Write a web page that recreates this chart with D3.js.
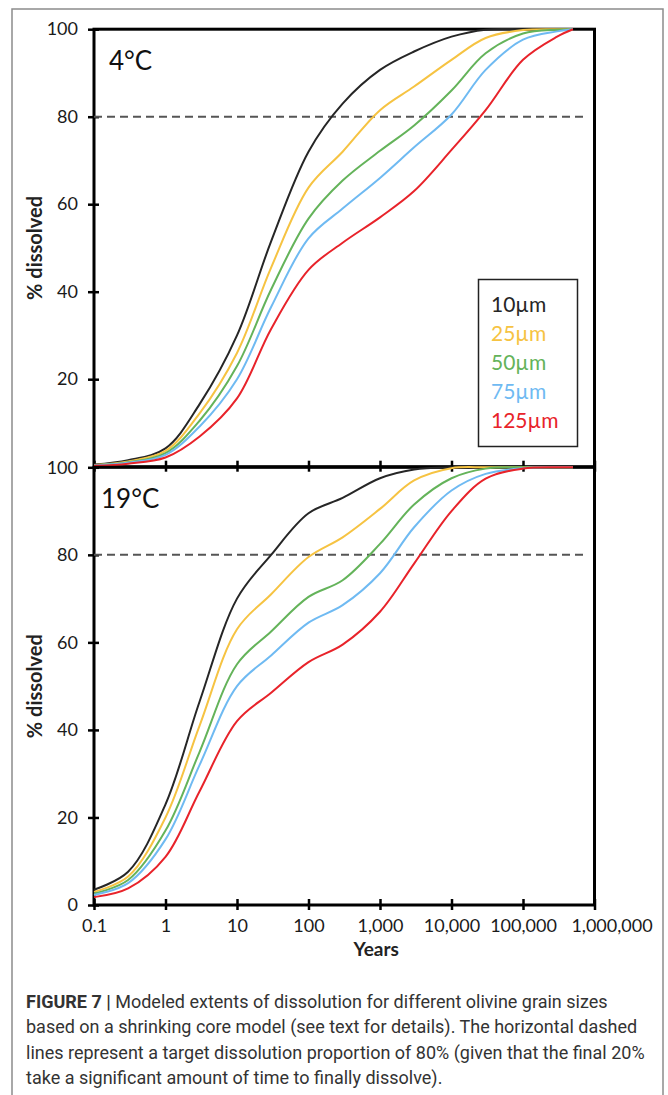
<!DOCTYPE html>
<html>
<head>
<meta charset="utf-8">
<script src="https://cdn.jsdelivr.net/npm/d3@7"></script>
<style>
body { margin: 0; background: #fff; }
</style>
</head>
<body>
<div id="fig"></div>
<script>
// data (x = years, y = % dissolved)
var years = [0.1, 0.3, 1, 3, 10, 30, 100, 300, 1000, 3000, 10000, 30000, 100000, 300000, 500000];
var sizes = ["10µm", "25µm", "50µm", "75µm", "125µm"];
var colors = ["#262626", "#f6c342", "#64b35a", "#6fbaf2", "#e8232a"];

// 4°C
var cold10  = [0.5, 1.5, 4.2, 14.3, 30, 51.5, 72, 83, 90.7, 94.9, 98.3, 99.9, 100, 100, 100];
var cold25  = [0.4, 1.2, 3.6, 12.2, 26, 45.5, 63.8, 72, 81.5, 86.9, 93, 98, 99.8, 100, 100];
var cold50  = [0.35, 1.0, 3.1, 10.5, 23, 40.5, 56.7, 65.4, 72.2, 78, 86, 94.5, 99, 99.9, 100];
var cold75  = [0.3, 0.9, 2.7, 9.2, 20, 36.5, 52.2, 59, 66, 73, 80.5, 90.7, 97.6, 99.5, 100];
var cold125 = [0.2, 0.7, 2.1, 6.9, 15.6, 31.5, 45, 51.2, 57, 63, 72.4, 81.5, 93, 98.3, 100];

// 19°C
var warm10  = [3.5, 7.6, 23, 46.5, 70, 80, 89.5, 93, 97.5, 99.5, 100, 100, 100, 100, 100];
var warm25  = [3, 6.5, 20, 41, 63, 71, 79.5, 84, 90.5, 97, 99.8, 100, 100, 100, 100];
var warm50  = [2.6, 5.7, 17, 35, 55, 62.5, 70.4, 74.2, 82.5, 91.5, 97.5, 99.7, 100, 100, 100];
var warm75  = [2.3, 5, 15, 32, 50, 57, 64.5, 68.5, 75.8, 86.3, 94.7, 98.5, 99.8, 100, 100];
var warm125 = [1.8, 3.8, 11, 26, 42, 48.5, 55.5, 59.5, 67, 78, 90, 97.4, 99.7, 100, 100];

var xTicks = [0.1, 1, 10, 100, 1000, 10000, 100000, 1000000];
var xTickLabels = ["0.1", "1", "10", "100", "1,000", "10,000", "100,000", "1,000,000"];
var target = 80;

var captionLines = [
	"based on a shrinking core model (see text for details). The horizontal dashed",
	"lines represent a target dissolution proportion of 80% (given that the final 20%",
	"take a significant amount of time to finally dissolve)."
];

var W = 668, H = 1095;
var font = "Lato, 'Open Sans', sans-serif";

var svg = d3.select("#fig")
	.append("svg")
	.attr("width", W)
	.attr("height", H);

svg.append("rect").attr("width", W).attr("height", H).attr("fill", "#fff");

// outer figure frame (bottom edge runs off the page)
svg.append("path")
	.attr("d", "M12,1100 V9 H663 V1100")
	.attr("fill", "none")
	.attr("stroke", "#8c8c8c")
	.attr("stroke-width", 1.5);

var x = d3.scaleLog().domain([0.1, 1000000]).range([94, 594.5]);
var yTop = d3.scaleLinear().domain([0, 100]).range([466.7, 29.2]);
var yBot = d3.scaleLinear().domain([0, 100]).range([905, 467.3]);

function panel(y, series, title, titleX, yVals, showX){
	var g = svg.append("g");

	// y axis
	var ya = g.append("g")
		.attr("transform", "translate(" + x(0.1) + ",0)")
		.call(d3.axisLeft(y).tickValues(yVals).tickSize(6).tickPadding(10));
	ya.select(".domain").remove();
	ya.selectAll(".tick line").attr("x1", -6).attr("x2", 5).attr("stroke", "#000").attr("stroke-width", 2.5);
	ya.selectAll(".tick text")
		.attr("font-family", font).attr("font-size", 18).attr("fill", "#1a1a1a");

	// x axis
	var xa = g.append("g")
		.attr("transform", "translate(0," + y(0) + ")")
		.call(d3.axisBottom(x).tickValues(xTicks).tickSize(5).tickPadding(9)
			.tickFormat(function(d, i){ return showX ? xTickLabels[i] : ""; }));
	xa.select(".domain").remove();
	xa.selectAll(".tick line").attr("y1", -6).attr("y2", 5).attr("stroke", "#000").attr("stroke-width", 2.5);
	xa.selectAll(".tick text")
		.attr("font-family", font).attr("font-size", 18).attr("fill", "#1a1a1a")
		.attr("dx", function(d, i){ return i == xTicks.length - 1 ? 17 : 0; });

	// plot box
	g.append("rect")
		.attr("x", x(0.1))
		.attr("y", y(100))
		.attr("width", x(1000000) - x(0.1))
		.attr("height", y(0) - y(100))
		.attr("fill", "none")
		.attr("stroke", "#000")
		.attr("stroke-width", 3);

	// 80% target
	g.append("line")
		.attr("x1", x(0.1))
		.attr("x2", 585)
		.attr("y1", y(target))
		.attr("y2", y(target))
		.attr("stroke", "#555")
		.attr("stroke-width", 2)
		.attr("stroke-dasharray", "8,5");

	var line = d3.line()
		.x(function(d, i){ return x(years[i]); })
		.y(function(d){ return y(d); })
		.curve(d3.curveCatmullRom.alpha(0.5));

	for(var i = 0; i < series.length; i++){
		g.append("path")
			.datum(series[i])
			.attr("fill", "none")
			.attr("stroke", colors[i])
			.attr("stroke-width", 2)
			.attr("d", line);
	}

	g.append("text")
		.attr("x", titleX)
		.attr("y", y(100) + 41)
		.attr("font-family", font)
		.attr("font-size", 26)
		.attr("fill", "#111")
		.text(title);

	// y axis title
	g.append("text")
		.attr("transform", "translate(42," + ((y(0) + y(100)) / 2) + ") rotate(-90)")
		.attr("text-anchor", "middle")
		.attr("font-family", font)
		.attr("font-weight", "bold")
		.attr("font-size", 20)
		.attr("fill", "#222")
		.text("% dissolved");
}

panel(yTop, [cold10, cold25, cold50, cold75, cold125], "4°C", 109, [20, 40, 60, 80, 100], false);
panel(yBot, [warm10, warm25, warm50, warm75, warm125], "19°C", 101, [0, 20, 40, 60, 80, 100], true);

svg.append("text")
	.attr("x", (x(0.1) + x(1000000)) / 2 + 32)
	.attr("y", 956)
	.attr("text-anchor", "middle")
	.attr("font-family", font)
	.attr("font-weight", "bold")
	.attr("font-size", 19)
	.attr("fill", "#222")
	.text("Years");

// legend
var legend = svg.append("g").attr("class", "legend");
legend.append("rect")
	.attr("x", 478.5).attr("y", 279.5)
	.attr("width", 99).attr("height", 167)
	.attr("fill", "#fff")
	.attr("stroke", "#222")
	.attr("stroke-width", 1.5);
legend.selectAll("text")
	.data(sizes)
	.enter()
	.append("text")
	.attr("x", 491)
	.attr("y", function(d, i){ return 312 + i * 29; })
	.attr("font-family", font)
	.attr("font-size", 21)
	.attr("fill", function(d, i){ return colors[i]; })
	.text(function(d){ return d; });

// caption
var cap = svg.append("g")
	.attr("font-family", "'Liberation Sans Narrow', 'Arial Narrow', Roboto, sans-serif")
	.attr("font-size", 18)
	.attr("fill", "#333");
var first = cap.append("text").attr("x", 26).attr("y", 1008);
first.append("tspan").attr("font-weight", "bold").text("FIGURE 7 | ");
first.append("tspan").text("Modeled extents of dissolution for different olivine grain sizes");
cap.selectAll("text.line")
	.data(captionLines)
	.enter()
	.append("text")
	.attr("class", "line")
	.attr("x", 26)
	.attr("y", function(d, i){ return 1033 + i * 25.5; })
	.text(function(d){ return d; });
</script>
</body>
</html>
